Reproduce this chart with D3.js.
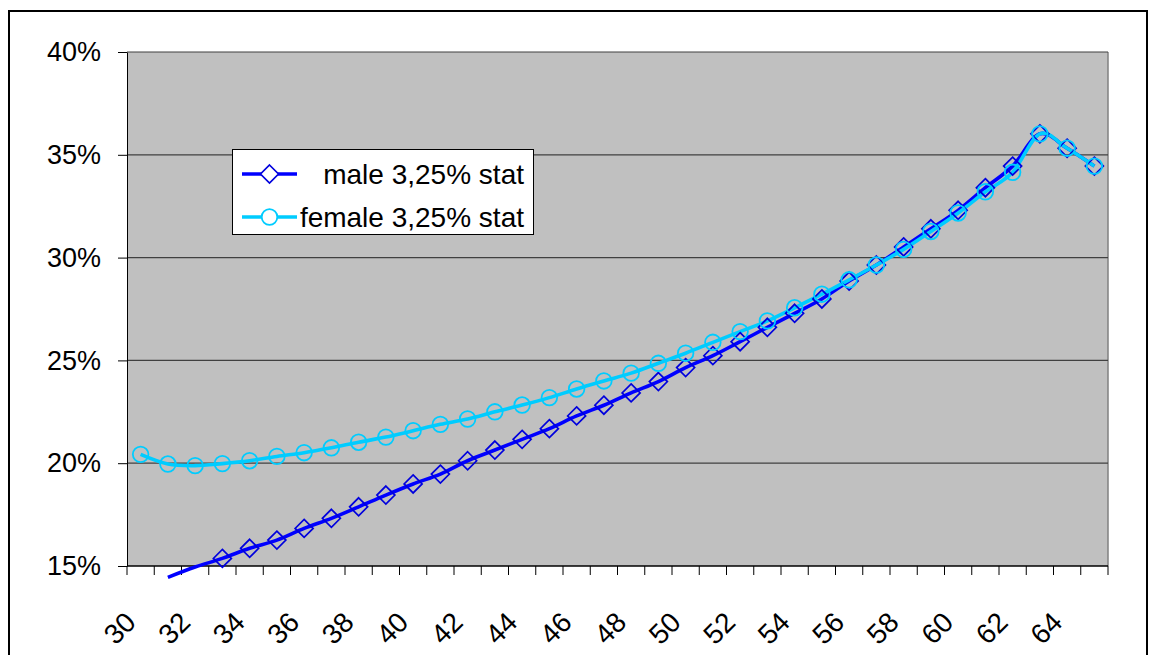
<!DOCTYPE html>
<html><head><meta charset="utf-8">
<script src="https://cdn.jsdelivr.net/npm/d3@7"></script>
<style>
body{margin:0;background:#fff;}
svg{display:block;font-family:"Liberation Sans",Arial,sans-serif;}
</style>
</head><body>
<svg id="c" width="1155" height="655"></svg>
<script>
const ages = [30,31,32,33,34,35,36,37,38,39,40,41,42,43,44,45,46,47,48,49,50,51,52,53,54,55,56,57,58,59,60,61,62,63,64,65];
const male = [null,14.45,14.95,15.37,15.86,16.26,16.83,17.32,17.88,18.45,
              18.99,19.47,20.12,20.64,21.16,21.68,22.3,22.82,23.42,23.97,
              24.65,25.23,25.91,26.61,27.29,27.99,28.86,29.64,30.52,31.4,
              32.3,33.4,34.45,36.02,35.32,34.45];
const female = [20.43,19.96,19.88,19.98,20.12,20.33,20.51,20.75,21.02,21.27,
                21.58,21.89,22.15,22.5,22.83,23.19,23.61,24.0,24.38,24.86,
                25.35,25.88,26.4,26.92,27.56,28.22,28.92,29.64,30.4,31.27,
                32.17,33.2,34.15,36.02,35.32,34.45];
const xTickLabels = [30,32,34,36,38,40,42,44,46,48,50,52,54,56,58,60,62,64];
const yTicks = [15,20,25,30,35,40];
const seriesNames = ["male 3,25% stat","female 3,25% stat"];

const svg = d3.select("#c");
const L = 127, R = 1108, T = 52, B = 566;
const x = d3.scaleBand().domain(ages).range([L, R]).padding(0);
const y = d3.scaleLinear().domain([15, 40]).range([B, T]);
const cx = a => x(a) + x.bandwidth() / 2;

// outer border
svg.append("rect").attr("x", 9).attr("y", 11).attr("width", 1138).attr("height", 700)
  .attr("fill", "#fff").attr("stroke", "#000").attr("stroke-width", 2);

// plot area
svg.append("rect").attr("x", L).attr("y", T).attr("width", R - L).attr("height", B - T)
  .attr("fill", "#C0C0C0");
svg.append("line").attr("x1", R).attr("x2", R).attr("y1", T).attr("y2", B)
  .attr("stroke", "#808080").attr("stroke-width", 1.5);

// gridlines
svg.append("g").selectAll("line").data(yTicks.filter(d => d > 15)).join("line")
  .attr("x1", L).attr("x2", R).attr("y1", d => y(d)).attr("y2", d => y(d))
  .attr("stroke", "#404040").attr("stroke-width", 1.2);

// y axis
const yAxis = svg.append("g").attr("transform", `translate(${L},0)`)
  .call(d3.axisLeft(y).tickValues(yTicks).tickFormat(d => d + "%").tickSize(9).tickSizeOuter(0).tickPadding(17));
yAxis.select(".domain").attr("stroke", "#000");
yAxis.selectAll(".tick line").attr("stroke", "#000");
yAxis.selectAll("text").attr("font-size", 27).attr("fill", "#000")
  .attr("font-family", "'Liberation Sans',Arial,sans-serif");

// x axis line and ticks at category boundaries
svg.append("line").attr("x1", L).attr("x2", R).attr("y1", B).attr("y2", B)
  .attr("stroke", "#000").attr("stroke-width", 1.5);
const bounds = ages.map(a => x(a)).concat([x(ages[ages.length - 1]) + x.bandwidth()]);
svg.append("g").selectAll("line").data(bounds).join("line")
  .attr("x1", d => d).attr("x2", d => d).attr("y1", B).attr("y2", B + 9)
  .attr("stroke", "#000").attr("stroke-width", 1);

svg.append("g").selectAll("text").data(xTickLabels).join("text")
  .attr("transform", d => `translate(${cx(d) - 10},617) rotate(-45)`)
  .attr("text-anchor", "end").attr("dy", "0.35em")
  .attr("font-size", 28).attr("fill", "#000").text(d => d);

// lines
const maleColor = "#0000FF", femaleColor = "#00CCFF";
const lineGen = data => d3.line()
  .defined((d, i) => data[i] != null)
  .x((d, i) => cx(ages[i]))
  .y((d, i) => y(data[i]))
  .curve(d3.curveCardinal.tension(0))(data);

svg.append("path").attr("d", lineGen(male)).attr("fill", "none")
  .attr("stroke", maleColor).attr("stroke-width", 3.6).attr("stroke-linejoin", "round");
svg.append("path").attr("d", lineGen(female)).attr("fill", "none")
  .attr("stroke", femaleColor).attr("stroke-width", 3.6).attr("stroke-linejoin", "round");

// markers
const diamond = (px, py, s) => `M${px},${py - s}L${px + s},${py}L${px},${py + s}L${px - s},${py}Z`;
const maleIdx = ages.map((a, i) => i).filter(i => male[i] != null && male[i] >= 15);
svg.append("g").selectAll("path").data(maleIdx).join("path")
  .attr("d", i => diamond(cx(ages[i]), y(male[i]), 9))
  .attr("fill", "none").attr("stroke", "#0000DD").attr("stroke-width", 1.7);
const femIdx = ages.map((a, i) => i).filter(i => female[i] != null && female[i] >= 15);
svg.append("g").selectAll("circle").data(femIdx).join("circle")
  .attr("cx", i => cx(ages[i])).attr("cy", i => y(female[i])).attr("r", 7.8)
  .attr("fill", "none").attr("stroke", femaleColor).attr("stroke-width", 1.8);

// legend
const lg = svg.append("g");
lg.append("rect").attr("x", 232.5).attr("y", 149.5).attr("width", 301).attr("height", 85)
  .attr("fill", "#fff").attr("stroke", "#000").attr("stroke-width", 1);
const legendRows = [
  {name: seriesNames[0], color: maleColor, ly: 174, type: "d"},
  {name: seriesNames[1], color: femaleColor, ly: 217, type: "c"}
];
legendRows.forEach(r => {
  lg.append("line").attr("x1", 242).attr("x2", 297).attr("y1", r.ly).attr("y2", r.ly)
    .attr("stroke", r.color).attr("stroke-width", 3.6);
  if (r.type === "d") {
    lg.append("path").attr("d", diamond(269.5, r.ly, 9)).attr("fill", "#fff")
      .attr("stroke", "#0000DD").attr("stroke-width", 1.7);
  } else {
    lg.append("circle").attr("cx", 269.5).attr("cy", r.ly).attr("r", 7.8).attr("fill", "#fff")
      .attr("stroke", r.color).attr("stroke-width", 1.8);
  }
  lg.append("text").attr("x", 524).attr("y", r.ly).attr("dy", "0.36em").attr("text-anchor", "end")
    .attr("font-size", 28).attr("fill", "#000").text(r.name);
});
</script>
</body></html>
